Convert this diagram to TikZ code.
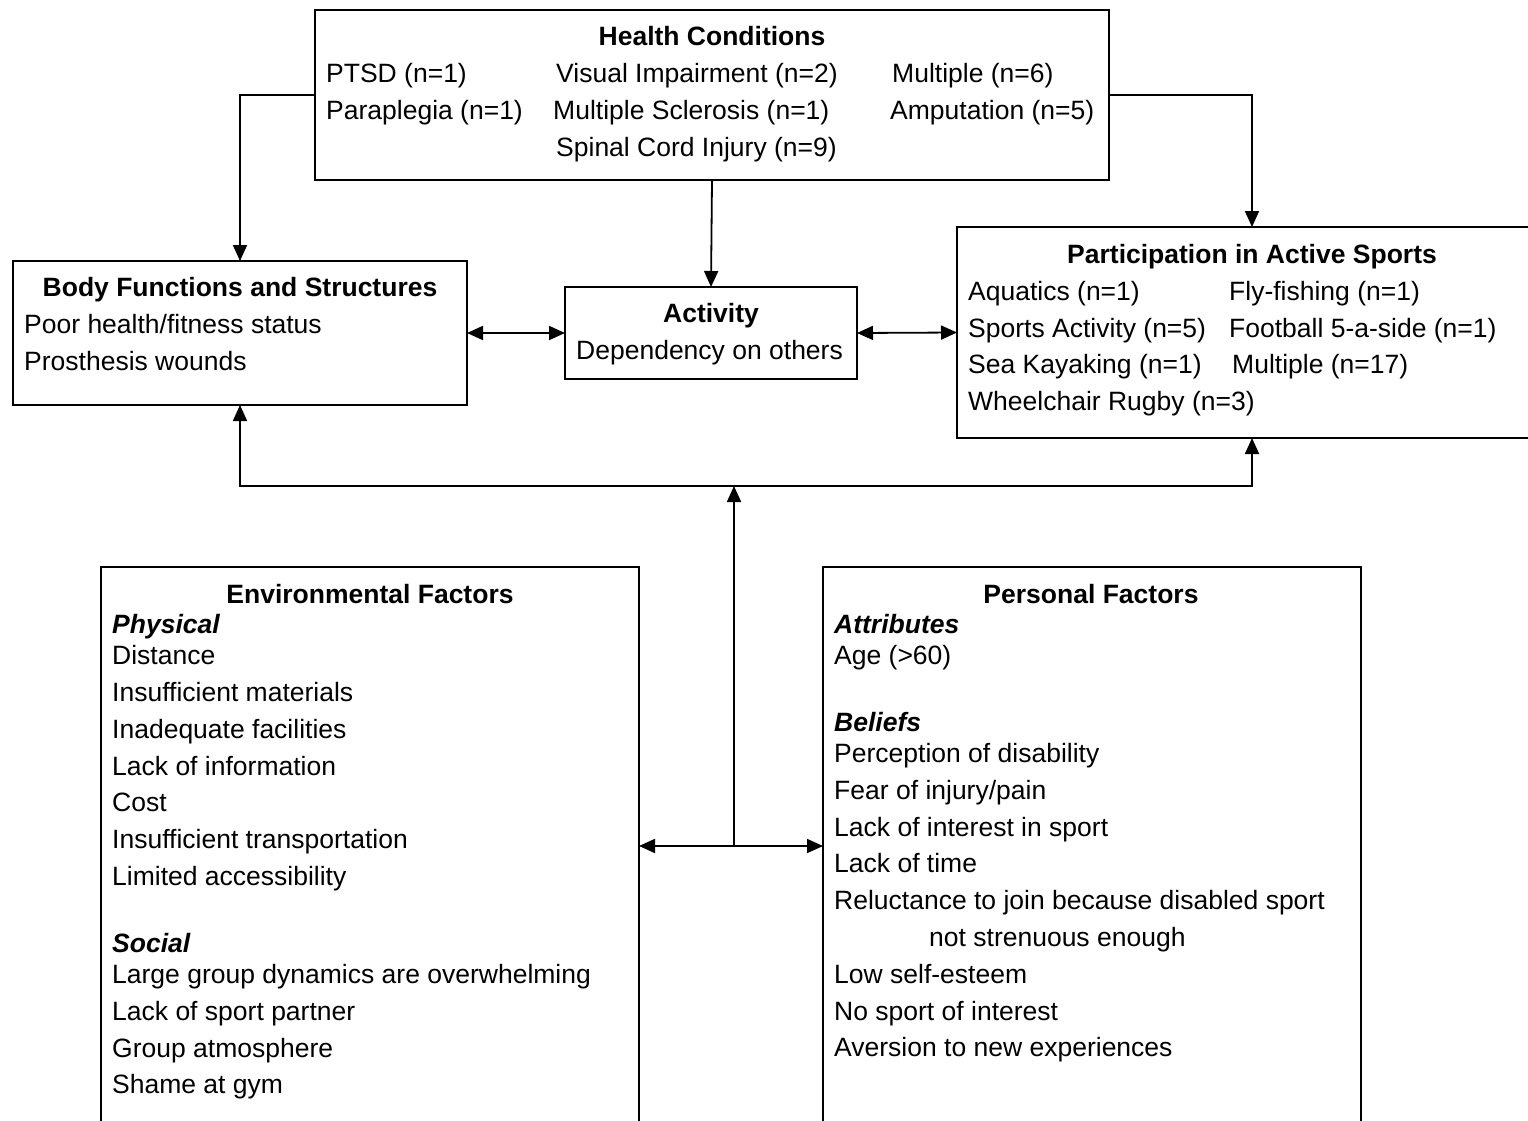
\documentclass[tikz,border=0pt]{standalone}
\usepackage{fontspec}
\setmainfont{Liberation Sans}
\usetikzlibrary{arrows.meta}
\begin{document}
\begin{tikzpicture}[x=1pt,y=-1pt,
  box/.style={draw=black, line width=1.2pt, rectangle, inner sep=0pt, outer sep=0pt},
  txt/.style={anchor=base west, inner sep=0pt, font=\fontsize{26.5}{37}\selectfont},
  ttl/.style={anchor=base, inner sep=0pt, font=\fontsize{26.5}{37}\selectfont\bfseries},
  sub/.style={anchor=base west, inner sep=0pt, font=\fontsize{26.5}{37}\selectfont\bfseries\itshape},
  arr/.style={line width=1.8pt, -{Triangle[length=16pt,width=14pt]}},
  biarr/.style={line width=1.8pt, {Triangle[length=16pt,width=14pt]}-{Triangle[length=16pt,width=14pt]}},
  plain/.style={line width=1.8pt}]
\useasboundingbox (0,0) rectangle (1528,1121);
% boxes
\node[box, minimum width=794pt, minimum height=170pt] (hc) at (712,95) {};
\node[box, minimum width=454pt, minimum height=144pt] (bf) at (240,333) {};
\node[box, minimum width=292pt, minimum height=92pt] (act) at (711,333) {};
\node[box, minimum width=590pt, minimum height=211pt] (pa) at (1252,332.5) {};
\node[box, minimum width=538pt, minimum height=562pt] (ef) at (370,848) {};
\node[box, minimum width=538pt, minimum height=562pt] (pf) at (1092,848) {};
% Health conditions text
\node[ttl] (hct) at (712,45.5) {Health Conditions};
\node[txt] (h1) at (326,82.5) {PTSD (n=1)};
\node[txt] (h2) at (326,119.5) {Paraplegia (n=1)};
\node[txt] (h3) at (556,82.5) {Visual Impairment (n=2)};
\node[txt] (h4) at (553,119.5) {Multiple Sclerosis (n=1)};
\node[txt] (h5) at (556,156.5) {Spinal Cord Injury (n=9)};
\node[txt] (h6) at (892,82.5) {Multiple (n=6)};
\node[txt] (h7) at (890,119.5) {Amputation (n=5)};
% Body functions
\node[ttl] (bft) at (240,296.5) {Body Functions and Structures};
\node[txt] (b1) at (24,333.5) {Poor health/fitness status};
\node[txt] (b2) at (24,370.5) {Prosthesis wounds};
% Activity
\node[ttl] (actt) at (711,322.5) {Activity};
\node[txt] (a1) at (576,359.5) {Dependency on others};
% Participation
\node[ttl] (pat) at (1252,263.5) {Participation in Active Sports};
\node[txt] (p1) at (968,300.5) {Aquatics (n=1)};
\node[txt] (p2) at (968,337.5) {Sports Activity (n=5)};
\node[txt] (p3) at (968,373.5) {Sea Kayaking (n=1)};
\node[txt] (p4) at (968,410.5) {Wheelchair Rugby (n=3)};
\node[txt] (p5) at (1229,300.5) {Fly-fishing (n=1)};
\node[txt] (p6) at (1229,337.5) {Football 5-a-side (n=1)};
\node[txt] (p7) at (1232,373.5) {Multiple (n=17)};
% Environmental factors
\node[ttl] (eft) at (370,603.5) {Environmental Factors};
\node[sub] (e0) at (112,633.5) {Physical};
\node[txt] (e1) at (112,664.5) {Distance};
\node[txt] (e2) at (112,701.5) {Insufficient materials};
\node[txt] (e3) at (112,738.5) {Inadequate facilities};
\node[txt] (e4) at (112,775.5) {Lack of information};
\node[txt] (e5) at (112,811.5) {Cost};
\node[txt] (e6) at (112,848.5) {Insufficient transportation};
\node[txt] (e7) at (112,885.5) {Limited accessibility};
\node[sub] (e8) at (112,952.5) {Social};
\node[txt] (e9) at (112,983.5) {Large group dynamics are overwhelming};
\node[txt] (e10) at (112,1020.5) {Lack of sport partner};
\node[txt] (e11) at (112,1057.5) {Group atmosphere};
\node[txt] (e12) at (112,1093.5) {Shame at gym};
% Personal factors
\node[ttl] (pft) at (1091,603.5) {Personal Factors};
\node[sub] (q0) at (834,633.5) {Attributes};
\node[txt] (q1) at (834,664.5) {Age (>60)};
\node[sub] (q2) at (834,731.5) {Beliefs};
\node[txt] (q3) at (834,762.5) {Perception of disability};
\node[txt] (q4) at (834,799.5) {Fear of injury/pain};
\node[txt] (q5) at (834,836.5) {Lack of interest in sport};
\node[txt] (q6) at (834,872.5) {Lack of time};
\node[txt] (q7) at (834,909.5) {Reluctance to join because disabled sport};
\node[txt] (q8) at (929,946.5) {not strenuous enough};
\node[txt] (q9) at (834,983.5) {Low self-esteem};
\node[txt] (q10) at (834,1020.5) {No sport of interest};
\node[txt] (q11) at (834,1056.5) {Aversion to new experiences};
% connectors
\coordinate (j) at (734,486);
\coordinate (k) at (734,846);
\draw[arr] (hc.west) -| (bf.north);
\draw[arr] (hc.east) -| (pa.north);
\draw[arr] (hc.south) -- (act.north);
\draw[biarr] (bf.east) -- (act.west);
\draw[biarr] (act.east) -- (pa.west);
\draw[arr] (j) -| (bf.south);
\draw[arr] (j) -| (pa.south);
\draw[arr] (k) -- (j);
\draw[biarr] (ef.east |- k) -- (pf.west |- k);
\end{tikzpicture}
\end{document}
